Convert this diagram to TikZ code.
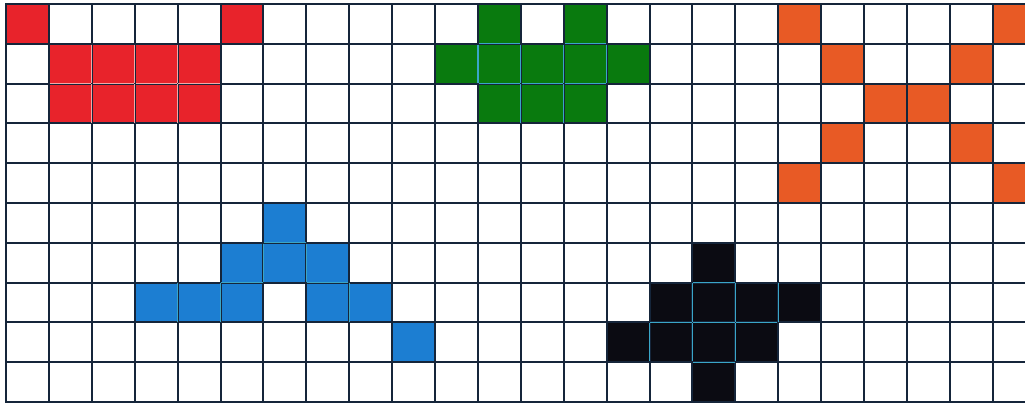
\documentclass[tikz,border=0pt]{standalone}
\definecolor{gridc}{HTML}{15253A}
\definecolor{cred}{HTML}{E8232B}
\definecolor{cgreen}{HTML}{097A0E}
\definecolor{corange}{HTML}{E85A25}
\definecolor{cblue}{HTML}{1C7ED2}
\definecolor{cblack}{HTML}{0B0B12}
\definecolor{incyan}{HTML}{3AA6C8}
\definecolor{inpink}{HTML}{F3A8A8}
\newcommand\pxcell[3]{\fill[#3] ({6+42.9*#1},{4+39.8*#2}) rectangle ({6+42.9*(#1+1)},{4+39.8*(#2+1)});}
\newcommand\vedge[3]{\draw[inner line,#3] ({6+42.9*#1},{4+39.8*#2+0.8}) -- ({6+42.9*#1},{4+39.8*(#2+1)-0.8});}
\newcommand\hedge[3]{\draw[inner line,#3] ({6+42.9*#1+0.8},{4+39.8*#2}) -- ({6+42.9*(#1+1)-0.8},{4+39.8*#2});}
\tikzset{gridline/.style={draw=gridc,line width=1.5pt},
  inner line/.style={line width=1pt}}
\begin{document}
\begin{tikzpicture}[x=0.75pt,y=-0.75pt]
\useasboundingbox (0,0) rectangle (1025,409);
\clip (0,0) rectangle (1025,409);
\fill[white] (0,0) rectangle (1025,409);
% red
\pxcell{0}{0}{cred}\pxcell{5}{0}{cred}
\foreach \c in {1,...,4}{\pxcell{\c}{1}{cred}\pxcell{\c}{2}{cred}}
% green
\pxcell{11}{0}{cgreen}\pxcell{13}{0}{cgreen}
\foreach \c in {10,...,14}{\pxcell{\c}{1}{cgreen}}
\foreach \c in {11,...,13}{\pxcell{\c}{2}{cgreen}}
% orange
\foreach \c/\r in {18/0,23/0,19/1,22/1,20/2,21/2,19/3,22/3,18/4,23/4}{\pxcell{\c}{\r}{corange}}
% blue
\foreach \c/\r in {6/5,5/6,6/6,7/6,3/7,4/7,5/7,7/7,8/7,9/8}{\pxcell{\c}{\r}{cblue}}
% black
\foreach \c/\r in {16/6,15/7,16/7,17/7,18/7,14/8,15/8,16/8,17/8,16/9}{\pxcell{\c}{\r}{cblack}}
% grid
\foreach \i in {0,...,23}{\draw[gridline] ({6+42.9*\i},4) -- ({6+42.9*\i},402);}
\foreach \j in {0,...,10}{\draw[gridline] (5.25,{4+39.8*\j}) -- (1025,{4+39.8*\j});}
% interior lines red
\foreach \c in {2,3,4}{\vedge{\c}{1}{inpink}\vedge{\c}{2}{inpink}}
\foreach \c in {1,...,4}{\hedge{\c}{2}{inpink}}
% green
\foreach \c in {11,...,14}{\vedge{\c}{1}{incyan}}
\foreach \c in {12,13}{\vedge{\c}{2}{incyan}}
\foreach \c in {11,13}{\hedge{\c}{1}{incyan}}
\foreach \c in {11,12,13}{\hedge{\c}{2}{incyan}}
% blue
\foreach \c/\r in {6/6,7/6,4/7,5/7,8/7}{\vedge{\c}{\r}{incyan}}
\foreach \c/\r in {6/6,5/7,7/7}{\hedge{\c}{\r}{incyan}}
% black
\foreach \c/\r in {16/7,17/7,18/7,15/8,16/8,17/8}{\vedge{\c}{\r}{incyan}}
\foreach \c/\r in {16/7,15/8,16/8,17/8,16/9}{\hedge{\c}{\r}{incyan}}
\end{tikzpicture}
\end{document}
